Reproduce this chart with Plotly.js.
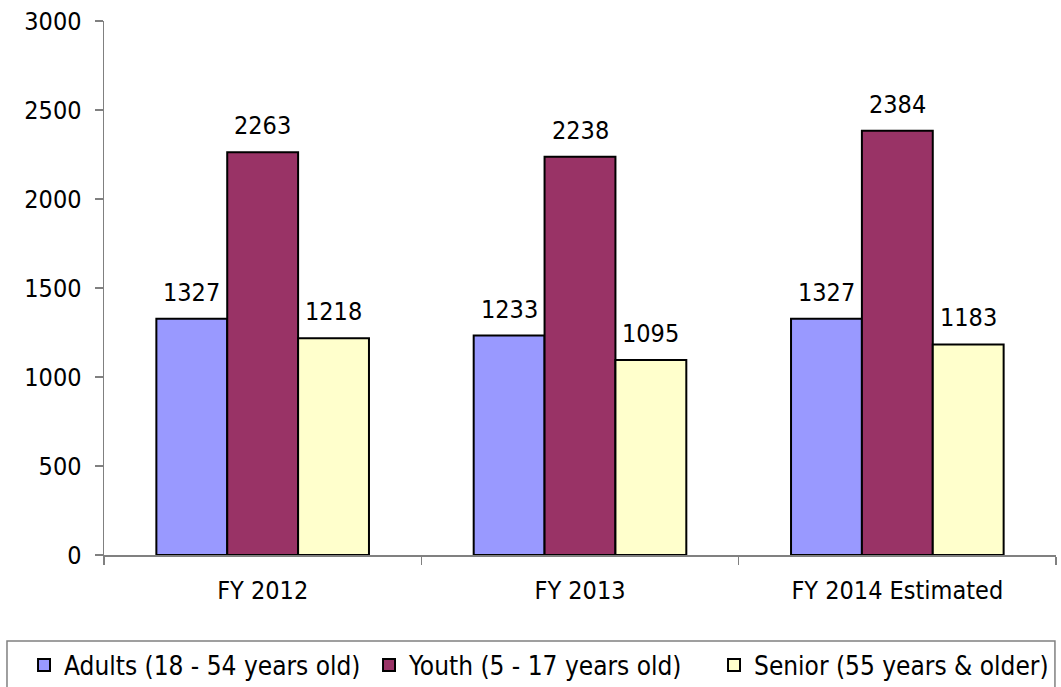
<!DOCTYPE html>
<html>
<head>
<meta charset="utf-8">
<script src="https://cdn.plot.ly/plotly-3.0.1.min.js"></script>
<style>html,body{margin:0;padding:0;background:#fff;}#chart{width:1061px;height:687px;}</style>
</head>
<body>
<div id="chart"></div>
<script>
const categories = ["FY 2012", "FY 2013", "FY 2014 Estimated"];
const seriesNames = ["Adults (18 - 54 years old)", "Youth (5 - 17 years old)", "Senior (55 years & older)"];
const adults = [1327, 1233, 1327];
const youth = [2263, 2238, 2384];
const senior = [1218, 1095, 1183];
const colors = ["#9999FF", "#993366", "#FFFFCC"];
const yTicks = [0, 500, 1000, 1500, 2000, 2500, 3000];

const FONT = "'DejaVu Sans Condensed', 'Liberation Sans', sans-serif";
const FS = 25;
const BARGAP = 0.33;
const values = [adults, youth, senior];
const nSeries = values.length;
const barW = (1 - BARGAP) / nSeries;

const data = values.map((v, i) => ({
  type: "bar",
  name: seriesNames[i],
  x: categories,
  y: v,
  marker: {color: colors[i], line: {color: "#000", width: 2}},
  hoverinfo: "x+y"
}));

// value labels above the bars, placed through the axis scales
const annotations = [];
values.forEach((v, i) => {
  v.forEach((val, c) => {
    annotations.push({
      xref: "x", yref: "y",
      x: c + (i - (nSeries - 1) / 2) * barW,
      y: val,
      text: String(val),
      showarrow: false,
      xanchor: "center", yanchor: "bottom",
      yshift: 10,
      font: {family: FONT, size: FS, color: "#000"}
    });
  });
});

const layout = {
  width: 1061, height: 687,
  margin: {l: 104, r: 5, t: 21, b: 132, autoexpand: false},
  paper_bgcolor: "#fff", plot_bgcolor: "#fff",
  font: {family: FONT, size: FS, color: "#000"},
  barmode: "group",
  bargap: BARGAP,
  bargroupgap: 0,
  showlegend: true,
  legend: {
    orientation: "h",
    x: -0.084, xanchor: "left",
    y: -0.162, yanchor: "top",
    font: {family: FONT, size: 26, color: "#000"},
    bgcolor: "rgba(0,0,0,0)",
    borderwidth: 0,
    itemwidth: 30,
    entrywidth: 300,
    entrywidthmode: "pixels",
    traceorder: "normal"
  },
  xaxis: {
    type: "category",
    range: [-0.5, 2.5],
    showline: true, linecolor: "#808080", linewidth: 1.5,
    ticks: "outside", tickson: "boundaries", ticklen: 8, tickcolor: "#808080", tickwidth: 1.5,
    ticklabelstandoff: 12,
    showgrid: false, zeroline: false,
    tickfont: {family: FONT, size: FS, color: "#000"}
  },
  yaxis: {
    range: [0, 3000],
    tickvals: yTicks,
    ticktext: yTicks.map(String),
    showline: true, linecolor: "#808080", linewidth: 1.5,
    ticks: "outside", ticklen: 8, tickcolor: "#808080", tickwidth: 1.5,
    ticklabelstandoff: 8,
    showgrid: false, zeroline: false,
    tickfont: {family: FONT, size: FS, color: "#000"}
  },
  annotations: annotations,
  shapes: [{
    type: "rect", xref: "paper", yref: "paper",
    x0: -0.1019, x1: 0.9989, y0: -0.161, y1: -0.26,
    line: {color: "#808080", width: 1.5}, fillcolor: "rgba(0,0,0,0)", layer: "below"
  }]
};

Plotly.newPlot("chart", data, layout, {displayModeBar: false, staticPlot: true});
</script>
</body>
</html>
